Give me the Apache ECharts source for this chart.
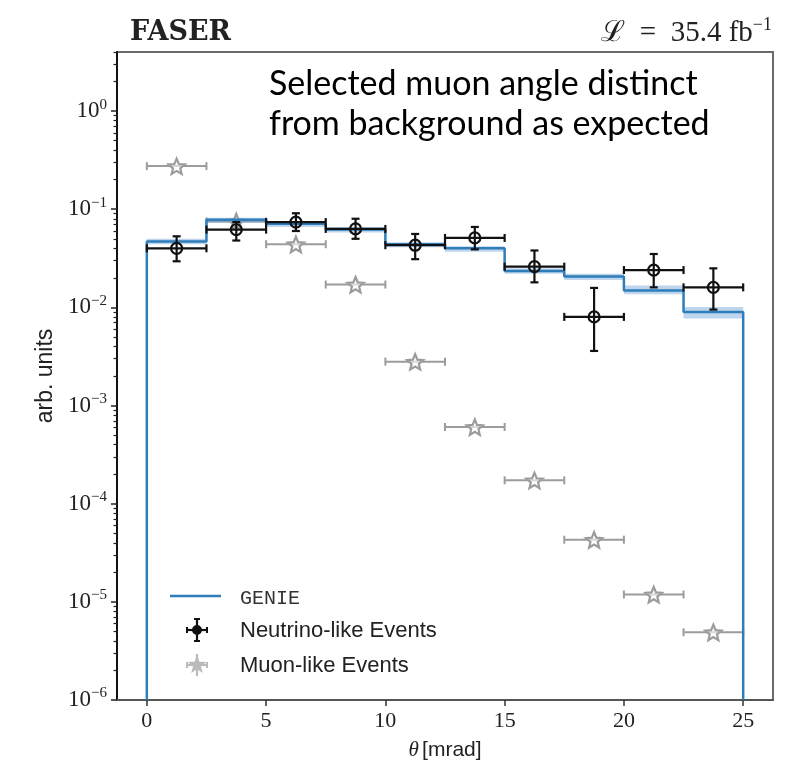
<!DOCTYPE html>
<html><head><meta charset="utf-8">
<script src="https://cdn.jsdelivr.net/npm/echarts@6/dist/echarts.min.js"></script>
<style>html,body{margin:0;padding:0;background:#fff}#c{width:790px;height:764px}</style>
</head><body><div id="c"></div>
<script>
// ---- data ----
const binEdges   = [0, 2.5, 5, 7.5, 10, 12.5, 15, 17.5, 20, 22.5, 25];
const binCenters = [1.25, 3.75, 6.25, 8.75, 11.25, 13.75, 16.25, 18.75, 21.25, 23.75];
const binHalfWidth = 1.25;
const genie      = [0.047, 0.078, 0.071, 0.062, 0.044, 0.040, 0.0235, 0.0207, 0.0149, 0.0090];
const genieLow   = [0.044, 0.073, 0.066, 0.058, 0.041, 0.037, 0.0220, 0.0190, 0.0136, 0.0077];
const genieHigh  = [0.050, 0.082, 0.075, 0.066, 0.046, 0.042, 0.0250, 0.0220, 0.0167, 0.0101];
const nuVal      = [0.040, 0.062, 0.074, 0.063, 0.043, 0.051, 0.026, 0.0080, 0.024, 0.016];
const nuLow      = [0.0295, 0.048, 0.060, 0.050, 0.031, 0.039, 0.018, 0.0036, 0.016, 0.0095];
const nuHigh     = [0.053, 0.074, 0.091, 0.080, 0.056, 0.066, 0.038, 0.0158, 0.035, 0.025];
const muVal      = [0.275, 0.075, 0.044, 0.0171, 0.0028, 6.05e-4, 1.73e-4, 4.3e-5, 1.19e-5, 4.9e-6];
const xTicks     = [0, 5, 10, 15, 20, 25];
const yTicks     = [1e-6, 1e-5, 1e-4, 1e-3, 1e-2, 1e-1, 1];
const yMin = 1e-6, yMax = 4;
const xMin = -1.25, xMax = 26.25;

const yMinor = [];
for (let e = -6; e <= 0; e++) for (let m = 2; m <= 9; m++) { const v = m * Math.pow(10, e); if (v <= yMax) yMinor.push(v); }

// step line points
const stepPts = [[binEdges[0], yMin]];
genie.forEach((g, i) => { stepPts.push([binEdges[i], g]); stepPts.push([binEdges[i + 1], g]); });
stepPts.push([binEdges[binEdges.length - 1], yMin]);

const BLUE = '#2f7dba';
const GREY = '#9c9c9c';
const BLACK = '#111';

function starPoints(cx, cy, R, r) {
  const pts = [];
  for (let k = 0; k < 10; k++) {
    const a = -Math.PI / 2 + k * Math.PI / 5;
    const rad = k % 2 ? r : R;
    pts.push([cx + rad * Math.cos(a), cy + rad * Math.sin(a)]);
  }
  return pts;
}

const chart = echarts.init(document.getElementById('c'));
const supMap = v => { const e = Math.round(Math.log10(v)); return e < 0 ? '\u2212' + (-e) : String(e); };

chart.setOption({
  animation: false,
  backgroundColor: '#fff',
  grid: { left: 117, right: 17, top: 52, bottom: 64, show: true, borderColor: '#6a6a6a', borderWidth: 2, containLabel: false, outerBoundsMode: 'none' },
  xAxis: {
    type: 'value', min: xMin, max: xMax,
    splitLine: { show: false },
    axisLine: { onZero: false, lineStyle: { color: '#555', width: 2 } },
    axisTick: { customValues: xTicks, length: 6, lineStyle: { color: '#333', width: 1.5 } },
    axisLabel: { customValues: xTicks, margin: 10, fontFamily: 'Liberation Serif', fontSize: 22, color: '#222' },
    name: '{t|θ} {u|[mrad]}', nameLocation: 'middle', nameGap: 40,
    nameTextStyle: { rich: {
      t: { fontFamily: 'Liberation Serif', fontStyle: 'italic', fontSize: 21, color: '#222' },
      u: { fontFamily: 'Liberation Sans', fontSize: 21, color: '#222' } } }
  },
  yAxis: [{
    type: 'log', logBase: 10, min: yMin, max: yMax,
    splitLine: { show: false },
    axisLine: { onZero: false, lineStyle: { color: '#111', width: 2 } },
    axisTick: { customValues: yTicks, length: 6, lineStyle: { color: '#222', width: 1.5 } },
    axisLabel: { customValues: yTicks, margin: 10, color: '#222',
      formatter: v => '{b|10}{s|' + supMap(v) + '}',
      rich: { b: { fontFamily: 'Liberation Serif', fontSize: 23, lineHeight: 28 },
              s: { fontFamily: 'Liberation Serif', fontSize: 15, lineHeight: 16, verticalAlign: 'top' } } },
    name: 'arb. units', nameLocation: 'middle', nameGap: 60,
    nameTextStyle: { fontFamily: 'Liberation Sans', fontSize: 23, color: '#222' }
  }, {
    type: 'log', logBase: 10, min: yMin, max: yMax, position: 'left',
    splitLine: { show: false },
    axisLine: { show: false, onZero: false },
    axisTick: { customValues: yMinor, length: 3.5, lineStyle: { color: '#222', width: 1.2 } },
    axisLabel: { show: false }
  }],
  series: [
    { // muon-like events
      type: 'custom', name: 'Muon-like Events', z: 2,
      data: binCenters.map((c, i) => [c, muVal[i]]),
      renderItem: (params, api) => {
        const x = api.value(0), y = api.value(1);
        const c = api.coord([x, y]);
        const l = api.coord([x - binHalfWidth, y]), r = api.coord([x + binHalfWidth, y]);
        const st = { stroke: GREY, lineWidth: 2, fill: null };
        return { type: 'group', children: [
          { type: 'line', shape: { x1: l[0], y1: l[1], x2: r[0], y2: r[1] }, style: st },
          { type: 'line', shape: { x1: l[0], y1: l[1] - 4, x2: l[0], y2: l[1] + 4 }, style: st },
          { type: 'line', shape: { x1: r[0], y1: r[1] - 4, x2: r[0], y2: r[1] + 4 }, style: st },
          { type: 'polygon', shape: { points: starPoints(c[0], c[1] + 1, 8.5, 3.8) }, style: { stroke: GREY, lineWidth: 2.2, fill: 'rgba(255,255,255,0.6)' } }
        ] };
      }
    },
    { // GENIE uncertainty band
      type: 'custom', name: 'GENIE band', z: 3,
      data: binCenters.map((c, i) => [binEdges[i], binEdges[i + 1], genieLow[i], genieHigh[i]]),
      renderItem: (params, api) => {
        const p0 = api.coord([api.value(0), api.value(3)]);
        const p1 = api.coord([api.value(1), api.value(2)]);
        return { type: 'rect', shape: { x: p0[0], y: p0[1], width: p1[0] - p0[0], height: p1[1] - p0[1] },
                 style: { fill: 'rgba(110,165,215,0.45)' } };
      }
    },
    { // GENIE step line
      type: 'line', name: 'GENIE', z: 4, data: stepPts, showSymbol: false, symbol: 'none',
      lineStyle: { color: BLUE, width: 2.5 }
    },
    { // neutrino-like events
      type: 'custom', name: 'Neutrino-like Events', z: 5,
      data: binCenters.map((c, i) => [c, nuVal[i], nuLow[i], nuHigh[i]]),
      renderItem: (params, api) => {
        const x = api.value(0), y = api.value(1);
        const c = api.coord([x, y]);
        const l = api.coord([x - binHalfWidth, y]), r = api.coord([x + binHalfWidth, y]);
        const lo = api.coord([x, api.value(2)]), hi = api.coord([x, api.value(3)]);
        const st = { stroke: BLACK, lineWidth: 2.2, fill: null };
        return { type: 'group', children: [
          { type: 'line', shape: { x1: l[0], y1: l[1], x2: r[0], y2: r[1] }, style: st },
          { type: 'line', shape: { x1: l[0], y1: l[1] - 4, x2: l[0], y2: l[1] + 4 }, style: st },
          { type: 'line', shape: { x1: r[0], y1: r[1] - 4, x2: r[0], y2: r[1] + 4 }, style: st },
          { type: 'line', shape: { x1: c[0], y1: lo[1], x2: c[0], y2: hi[1] }, style: st },
          { type: 'line', shape: { x1: c[0] - 4, y1: lo[1], x2: c[0] + 4, y2: lo[1] }, style: st },
          { type: 'line', shape: { x1: c[0] - 4, y1: hi[1], x2: c[0] + 4, y2: hi[1] }, style: st },
          { type: 'circle', shape: { cx: c[0], cy: c[1], r: 5.5 }, style: { stroke: BLACK, lineWidth: 2.2, fill: 'rgba(255,255,255,0)' } }
        ] };
      }
    }
  ],
  graphic: [
    { type: 'text', x: 130, y: 33, style: { text: 'FASER', font: 'bold 27px "DejaVu Serif"', fill: '#222', verticalAlign: 'middle' } },
    { type: 'text', x: 772, y: 33, style: { text: '{a|ℒ\u2002=\u200235.4 fb}{s|\u22121}', align: 'right', verticalAlign: 'middle',
        rich: { a: { font: '29px "Liberation Serif"', fill: '#222', lineHeight: 34 }, s: { font: '18px "Liberation Serif"', fill: '#222', lineHeight: 19, verticalAlign: 'top' } } } },
    { type: 'text', x: 269, y: 104, style: { text: 'Selected muon angle distinct\nfrom background as expected', font: '34px Lato', fill: '#000', lineHeight: 40, verticalAlign: 'middle' } },
    // legend
    { type: 'line', shape: { x1: 170, y1: 596, x2: 221, y2: 596 }, style: { stroke: BLUE, lineWidth: 2.5 } },
    { type: 'text', x: 240, y: 599, style: { text: 'GENIE', font: '20px "Liberation Mono"', fill: '#333', verticalAlign: 'middle' } },
    { type: 'group', x: 197, y: 630, children: [
      { type: 'line', shape: { x1: -10, y1: 0, x2: 10, y2: 0 }, style: { stroke: BLACK, lineWidth: 2.2 } },
      { type: 'line', shape: { x1: -10, y1: -3, x2: -10, y2: 3 }, style: { stroke: BLACK, lineWidth: 2 } },
      { type: 'line', shape: { x1: 10, y1: -3, x2: 10, y2: 3 }, style: { stroke: BLACK, lineWidth: 2 } },
      { type: 'line', shape: { x1: 0, y1: -11, x2: 0, y2: 11 }, style: { stroke: BLACK, lineWidth: 2.2 } },
      { type: 'line', shape: { x1: -3, y1: -11, x2: 3, y2: -11 }, style: { stroke: BLACK, lineWidth: 2 } },
      { type: 'line', shape: { x1: -3, y1: 11, x2: 3, y2: 11 }, style: { stroke: BLACK, lineWidth: 2 } },
      { type: 'circle', shape: { cx: 0, cy: 0, r: 4 }, style: { stroke: BLACK, lineWidth: 2, fill: BLACK } } ] },
    { type: 'text', x: 240, y: 631, style: { text: 'Neutrino-like Events', font: '22px "Liberation Sans"', fill: '#222', verticalAlign: 'middle' } },
    { type: 'group', x: 197, y: 665, children: [
      { type: 'line', shape: { x1: -10, y1: 0, x2: 10, y2: 0 }, style: { stroke: '#bbb', lineWidth: 2.2 } },
      { type: 'line', shape: { x1: -10, y1: -3, x2: -10, y2: 3 }, style: { stroke: '#bbb', lineWidth: 2 } },
      { type: 'line', shape: { x1: 10, y1: -3, x2: 10, y2: 3 }, style: { stroke: '#bbb', lineWidth: 2 } },
      { type: 'line', shape: { x1: 0, y1: -11, x2: 0, y2: 11 }, style: { stroke: '#bbb', lineWidth: 2.2 } },
      { type: 'polygon', shape: { points: starPoints(0, 0, 7, 3) }, style: { stroke: '#bbb', lineWidth: 2, fill: '#bbb' } } ] },
    { type: 'text', x: 240, y: 666, style: { text: 'Muon-like Events', font: '22px "Liberation Sans"', fill: '#222', verticalAlign: 'middle' } }
  ]
});
</script>
</body></html>
